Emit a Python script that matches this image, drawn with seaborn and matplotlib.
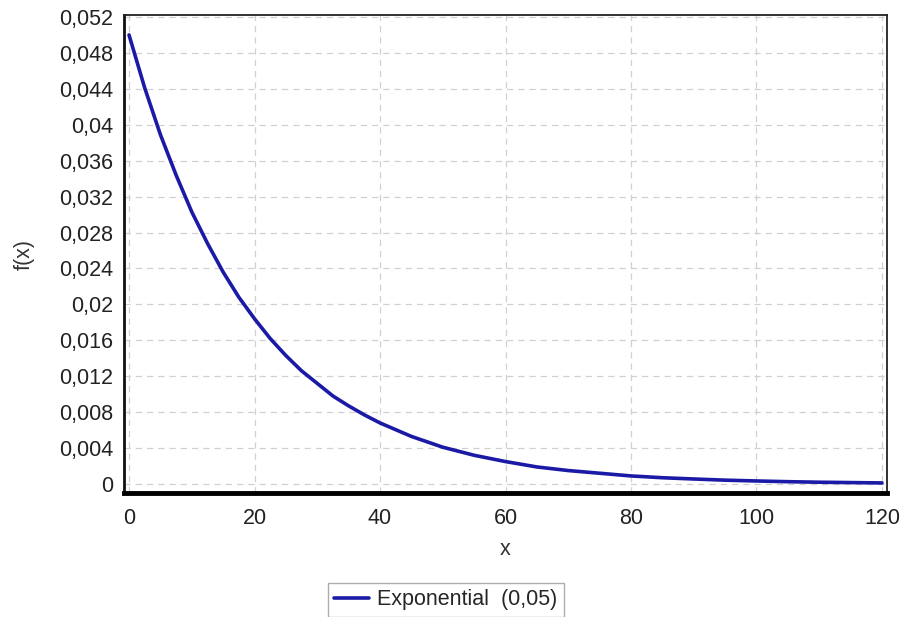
import matplotlib
matplotlib.use("Agg")
import matplotlib.pyplot as plt
import seaborn as sns
import pandas as pd
from matplotlib.ticker import MultipleLocator, FuncFormatter

# Values
x_values = [0, 2.5, 5, 7.5, 10, 12.5, 15, 17.5, 20, 22.5, 25, 27.5, 30, 32.5, 35,
            37.5, 40, 45, 50, 55, 60, 65, 70, 75, 80, 85, 90, 95, 100, 105, 110, 115, 120]
fx_values = [0.0500, 0.0441, 0.0389, 0.0344, 0.0303, 0.0268, 0.0236, 0.0208, 0.0184,
             0.0162, 0.0143, 0.0126, 0.0112, 0.0098, 0.0087, 0.0077, 0.0068, 0.0053,
             0.0041, 0.0032, 0.0025, 0.0019, 0.0015, 0.0012, 0.0009, 0.0007, 0.00056,
             0.00043, 0.00034, 0.00026, 0.00020, 0.00016, 0.00012]
series_name = "Exponential  (0,05)"
x_label = "x"
y_label = "f(x)"

df = pd.DataFrame({"x": x_values, "f": fx_values, "series": series_name})

sns.set_style("white")
plt.rcParams['font.family'] = ['Liberation Sans', 'DejaVu Sans']

fig = plt.figure(figsize=(9.05, 6.17), dpi=100)
ax = fig.add_axes([124/905, 1-493/617, (887-124)/905, (493-15)/617])

line_color = "#1a1aa6"
sns.lineplot(data=df, x="x", y="f", hue="series", palette=[line_color],
             linewidth=2.6, ax=ax, legend=False)

ax.set_xlim(-0.8, 120.8)
ax.set_ylim(-0.001, 0.05222)
ax.xaxis.set_major_locator(MultipleLocator(20))
ax.xaxis.set_minor_locator(MultipleLocator(5))
ax.yaxis.set_major_locator(MultipleLocator(0.004))
ax.yaxis.set_minor_locator(MultipleLocator(0.001))

def yfmt(v, pos):
    if abs(v) < 1e-12:
        return "0"
    s = f"{v:.3f}".rstrip("0")
    return s.replace(".", ",")
ax.yaxis.set_major_formatter(FuncFormatter(yfmt))
ax.xaxis.set_major_formatter(FuncFormatter(lambda v, p: f"{v:.0f}"))

ax.grid(True, which="major", linestyle=(0, (5, 4)), color="#d0d0d0", linewidth=0.9)
ax.tick_params(axis="both", which="major", direction="out", length=5, width=1,
               color="#909090", labelsize=15.5, labelcolor="#222222", pad=3)
ax.tick_params(axis="both", which="minor", direction="out", length=3, width=1,
               color="#a0a0a0")
ax.tick_params(axis="x", which="major", pad=6)

for side in ["top", "right"]:
    ax.spines[side].set_visible(True)
    ax.spines[side].set_color("#222222")
    ax.spines[side].set_linewidth(1.3)
ax.spines["left"].set_color("#111111")
ax.spines["left"].set_linewidth(2)
ax.spines["bottom"].set_color("#000000")
ax.spines["bottom"].set_linewidth(3.5)

ax.set_xlabel(x_label, fontsize=15.5, color="#333333", labelpad=7)
ax.set_ylabel(y_label, fontsize=15.5, color="#333333", labelpad=17)

handles = [plt.Line2D([0], [0], color=line_color, linewidth=2.6)]
leg = fig.legend(handles, [series_name], loc="center", bbox_to_anchor=(446/905, 1-600/617),
                 frameon=True, fancybox=False, fontsize=15.5, handlelength=1.6,
                 handletextpad=0.4, borderpad=0.3, borderaxespad=0)
leg.get_frame().set_edgecolor("#999999")
leg.get_frame().set_linewidth(1)

fig.savefig("out.png", dpi=100, facecolor="white")
